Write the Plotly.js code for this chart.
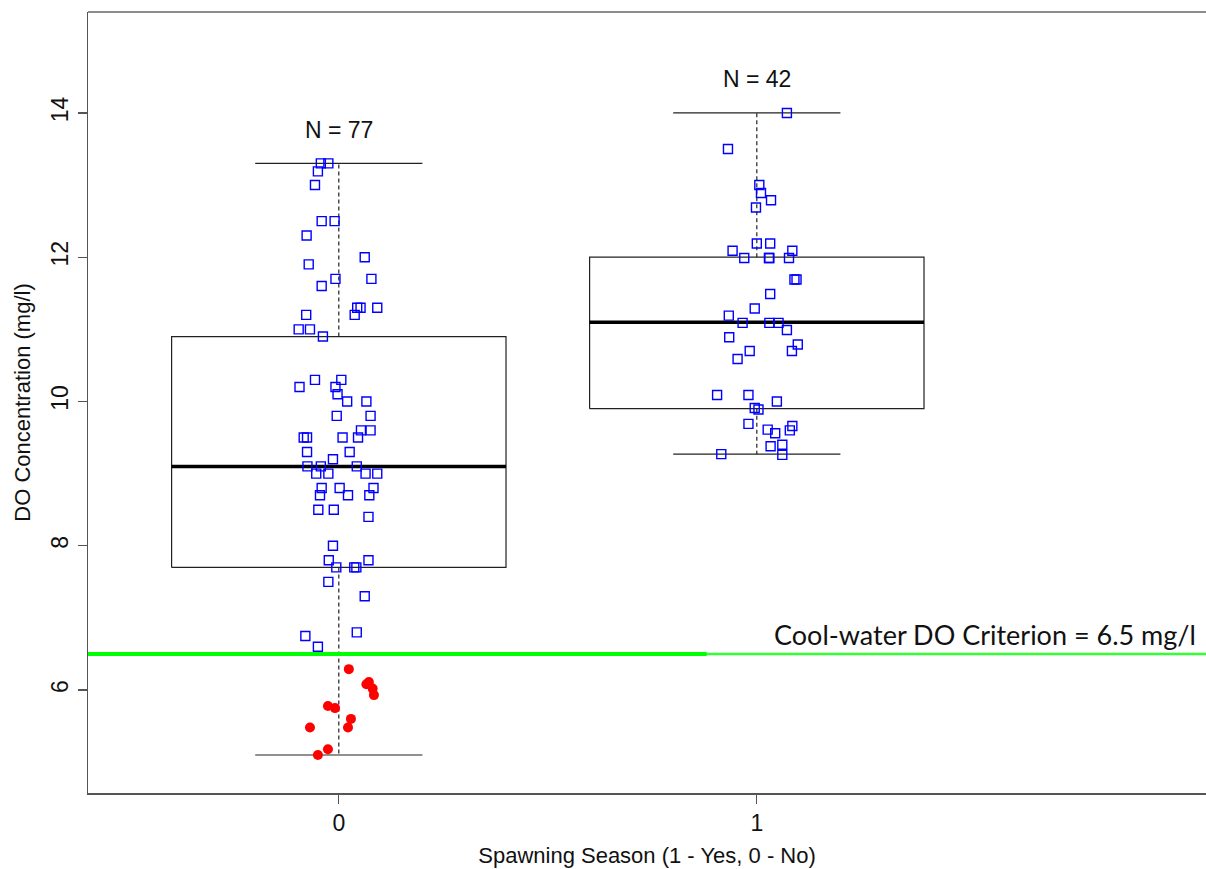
<!DOCTYPE html>
<html>
<head>
<meta charset="utf-8">
<script src="https://cdn.plot.ly/plotly-3.0.1.min.js"></script>
<style>html,body{margin:0;padding:0;background:#fff;}#chart{width:1206px;height:869px;}</style>
</head>
<body>
<div id="chart"></div>
<script>
// ---- Data ----
const groups = [0, 1];
const groupN = [77, 42];
const q1 = [7.7, 9.9];
const medians = [9.1, 11.1];
const q3 = [10.9, 12.0];
const whiskerLow = [5.1, 9.27];
const whiskerHigh = [13.3, 14.0];
const criterion = 6.5;

// group 0 points above the criterion (blue open squares): jittered x, value
const g0BlueX = [-0.043,-0.025,-0.050,-0.057,-0.041,-0.010,-0.077,0.062,-0.072,-0.008,0.078,-0.041,0.044,0.052,0.092,0.038,-0.078,-0.096,-0.069,-0.038,
  -0.057,0.006,-0.094,-0.008,-0.003,0.020,0.066,-0.005,0.076,0.053,0.076,-0.084,-0.076,0.009,0.046,-0.076,0.026,-0.014,-0.075,-0.043,0.043,
  -0.054,-0.025,0.064,0.092,-0.041,0.002,0.083,-0.045,0.022,0.073,-0.049,-0.012,0.071,-0.014,-0.024,0.071,-0.006,0.037,0.042,-0.025,0.062,
  0.043,-0.080,-0.050];
const g0BlueY = [13.3,13.3,13.19,13.0,12.5,12.5,12.3,12.0,11.9,11.7,11.7,11.6,11.3,11.3,11.3,11.2,11.2,11.0,11.0,10.9,
  10.3,10.3,10.2,10.2,10.1,10.0,10.0,9.8,9.8,9.6,9.6,9.5,9.5,9.5,9.5,9.3,9.3,9.2,9.1,9.1,9.1,
  9.0,9.0,9.0,9.0,8.8,8.8,8.8,8.7,8.7,8.7,8.5,8.5,8.4,8.0,7.8,7.8,7.7,7.7,7.7,7.5,7.3,
  6.8,6.75,6.6];
// group 0 points below the criterion (red dots)
const g0RedX = [0.024,0.072,0.066,0.081,0.084,-0.026,-0.009,0.029,-0.069,0.022,-0.026,-0.050];
const g0RedY = [6.29,6.11,6.08,6.02,5.93,5.78,5.75,5.60,5.48,5.48,5.18,5.10];
// group 1 points
const g1X = [1.072,0.931,1.006,1.010,1.034,0.998,1.000,1.032,0.942,1.085,0.970,1.029,1.030,1.077,1.090,1.095,1.032,0.995,0.933,0.966,1.030,
  1.052,1.072,0.934,1.098,0.983,1.084,0.954,0.905,0.980,1.048,0.995,1.004,0.980,1.085,1.026,1.079,1.044,1.061,1.033,0.915,1.061];
const g1Y = [14.0,13.5,13.0,12.89,12.79,12.69,12.19,12.19,12.09,12.09,11.99,11.99,11.99,11.99,11.69,11.69,11.49,11.29,11.19,11.09,11.09,
  11.09,10.99,10.89,10.79,10.70,10.70,10.59,10.09,10.09,10.0,9.91,9.89,9.69,9.66,9.61,9.60,9.56,9.40,9.38,9.27,9.26];

const xTickVals = [0, 1];
const xTickText = ['0', '1'];
const yTickVals = [6, 8, 10, 12, 14];
const xTitle = 'Spawning Season (1 - Yes, 0 - No)';
const yTitle = 'DO Concentration (mg/l)';
const criterionLabel = 'Cool-water DO Criterion = 6.5 mg/l';

// ---- Build traces ----
const boxHalf = 0.4, capHalf = 0.2;
const traces = [];
groups.forEach((g, i) => {
  // whiskers (dashed)
  traces.push({type:'scatter', mode:'lines', x:[g, g, null, g, g], y:[q3[i], whiskerHigh[i], null, q1[i], whiskerLow[i]],
    line:{color:'#222', width:1.2, dash:'4px,3px'}, hoverinfo:'skip', showlegend:false});
  // caps
  traces.push({type:'scatter', mode:'lines', x:[g-capHalf, g+capHalf, null, g-capHalf, g+capHalf], y:[whiskerHigh[i], whiskerHigh[i], null, whiskerLow[i], whiskerLow[i]],
    line:{color:'#222', width:1.2}, hoverinfo:'skip', showlegend:false});
  // box
  traces.push({type:'scatter', mode:'lines', x:[g-boxHalf, g+boxHalf, g+boxHalf, g-boxHalf, g-boxHalf], y:[q1[i], q1[i], q3[i], q3[i], q1[i]],
    line:{color:'#222', width:1.2}, hoverinfo:'skip', showlegend:false});
  // median
  traces.push({type:'scatter', mode:'lines', x:[g-boxHalf, g+boxHalf], y:[medians[i], medians[i]],
    line:{color:'#000', width:3.5}, hoverinfo:'skip', showlegend:false});
});
// criterion line (two overlapping segments as in the reference)
traces.push({type:'scatter', mode:'lines', x:[-0.6, 2.1], y:[criterion, criterion],
  line:{color:'#33ff33', width:2.5}, hoverinfo:'skip', showlegend:false});
traces.push({type:'scatter', mode:'lines', x:[-0.6, 0.88], y:[criterion, criterion],
  line:{color:'#00ff00', width:4}, hoverinfo:'skip', showlegend:false});

const sq = {symbol:'square-open', size:9, color:'#0000ff', line:{width:1.4, color:'#0000ff'}};
traces.push({type:'scatter', mode:'markers', x:g0BlueX, y:g0BlueY, marker:sq, showlegend:false});
traces.push({type:'scatter', mode:'markers', x:g1X, y:g1Y, marker:sq, showlegend:false});
traces.push({type:'scatter', mode:'markers', x:g0RedX, y:g0RedY,
  marker:{symbol:'circle', size:10, color:'#ff0000'}, showlegend:false});

const fontA = 'Liberation Sans, Arial, sans-serif';
const annotations = groups.map((g, i) => ({
  x: g, y: whiskerHigh[i] + 0.47, xref:'x', yref:'y', text:'N = ' + groupN[i], showarrow:false,
  font:{family:fontA, size:23, color:'#111'}
}));
annotations.push({x:1.0, xref:'paper', xanchor:'right', xshift:-8, y:criterion, yref:'y', yanchor:'bottom', yshift:1,
  text:criterionLabel, showarrow:false, font:{family:'Lato, Carlito, sans-serif', size:27, color:'#111'}});

const layout = {
  width:1206, height:869,
  margin:{l:88, r:0, t:12, b:76},
  paper_bgcolor:'#fff', plot_bgcolor:'#fff',
  xaxis:{range:[-0.6, 2.0746], tickvals:xTickVals, ticktext:xTickText, showgrid:false, zeroline:false,
    showline:true, linecolor:'#555', linewidth:1.5, ticks:'outside', ticklen:9, tickcolor:'#555', tickwidth:1.2,
    tickfont:{family:fontA, size:23, color:'#111'},
    title:{text:xTitle, standoff:12, font:{family:fontA, size:22, color:'#111'}}},
  yaxis:{range:[4.573, 15.399], tickvals:yTickVals, showgrid:false, zeroline:false,
    showline:true, linecolor:'#555', linewidth:1.5, ticks:'outside', ticklen:9, tickcolor:'#555', tickwidth:1.2,
    tickangle:-90,
    tickfont:{family:fontA, size:23, color:'#111'},
    title:{text:yTitle, standoff:10, font:{family:fontA, size:22, color:'#111'}}},
  shapes:[{type:'line', xref:'paper', yref:'paper', x0:0, x1:1, y0:1, y1:1, line:{color:'#666', width:1.5}}],
  annotations:annotations
};

Plotly.newPlot('chart', traces, layout, {staticPlot:true, displayModeBar:false});
</script>
</body>
</html>
